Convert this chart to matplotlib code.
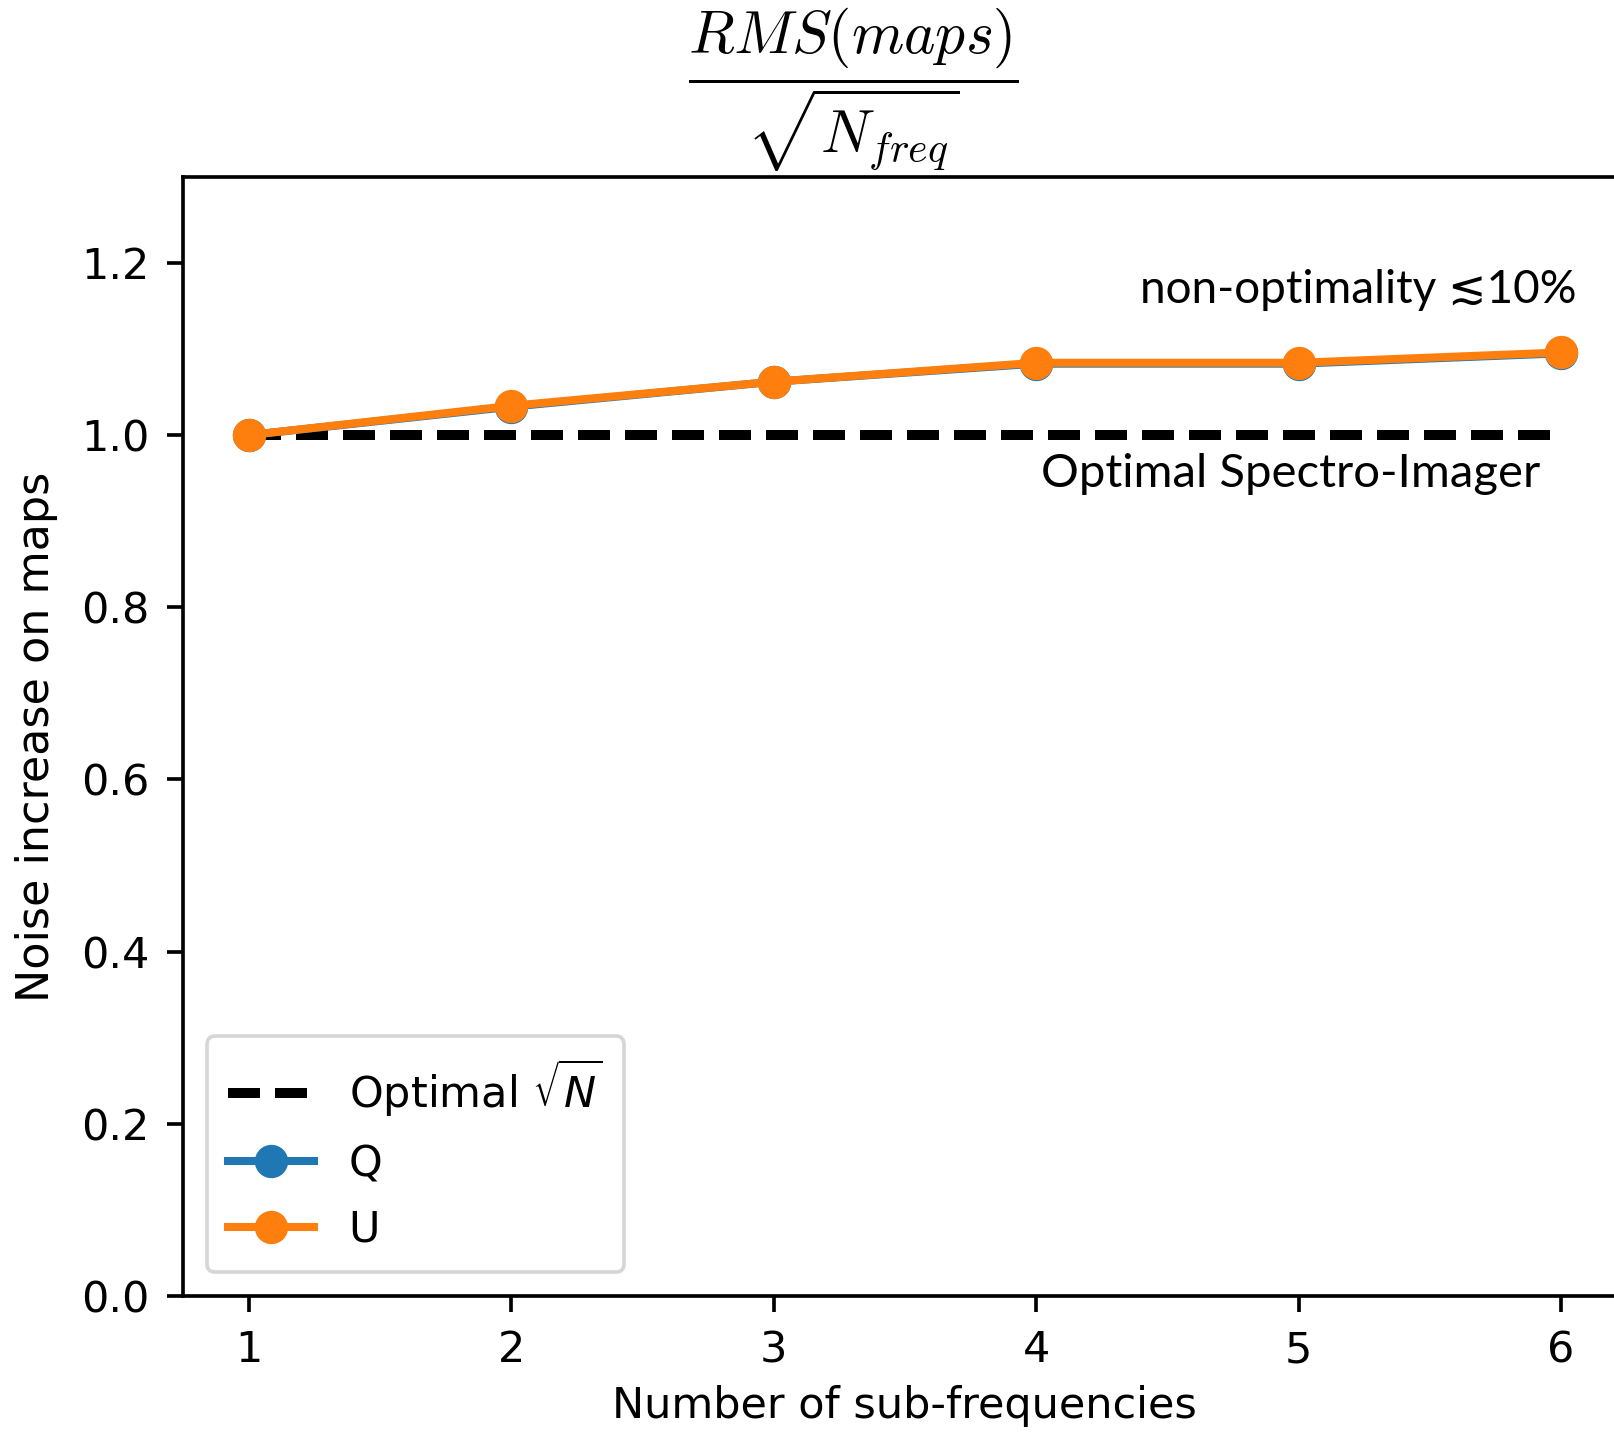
import matplotlib
matplotlib.use("Agg")
import matplotlib.pyplot as plt

# data
n_sub = [1, 2, 3, 4, 5, 6]
noise_q = [1.0, 1.033, 1.062, 1.083, 1.083, 1.095]
noise_u = [1.0, 1.034, 1.062, 1.084, 1.084, 1.096]
optimal = [1.0, 1.0, 1.0, 1.0, 1.0, 1.0]

s = 3.3  # overall scale, the picture is a blown up small plot
fs = 31

fig = plt.figure(figsize=(16.15, 14.33), dpi=100)
ax = fig.add_axes([0.1133, 0.0956, 0.894, 0.781])

ax.plot(n_sub, optimal, "k--", lw=7.2, dashes=(3.2, 1.5), label=r"Optimal $\sqrt{N}$")
ax.plot(n_sub, noise_q, "o-", color="#1f77b4", lw=5.8, ms=23, label="Q")
ax.plot(n_sub, noise_u, "o-", color="#ff7f0e", lw=5.8, ms=23, label="U")

ax.set_xlim(0.75, 6.25)
ax.set_ylim(0, 1.3)
ax.set_yticks([0.0, 0.2, 0.4, 0.6, 0.8, 1.0, 1.2])
ax.tick_params(labelsize=fs, width=0.8 * s, length=3.5 * s, pad=3.8 * s)
for sp in ax.spines.values():
    sp.set_linewidth(0.8 * s)

ax.set_xlabel("Number of sub-frequencies", fontsize=fs, labelpad=3 * s)
ax.set_ylabel("Noise increase on maps", fontsize=32, labelpad=5 * s)

leg = ax.legend(loc="lower left", fontsize=fs, borderpad=0.5, handlelength=2.0,
                labelspacing=0.55, borderaxespad=0.55)
leg.get_frame().set_linewidth(0.8 * s)

# notes added on top of the plot
ax.text(6.06, 1.168, "non-optimality \u227210%", ha="right", va="center",
        fontsize=33, family=["Lato", "DejaVu Sans"])
ax.text(5.92, 0.955, "Optimal Spectro-Imager", ha="right", va="center",
        fontsize=34, family=["Lato", "DejaVu Sans"])

fig.text(0.528, 0.937, r"$\dfrac{RMS(maps)}{\sqrt{N_{freq}}}$", ha="center", va="center",
         fontsize=43, math_fontfamily="cm")

fig.savefig("out.png", dpi=100)
